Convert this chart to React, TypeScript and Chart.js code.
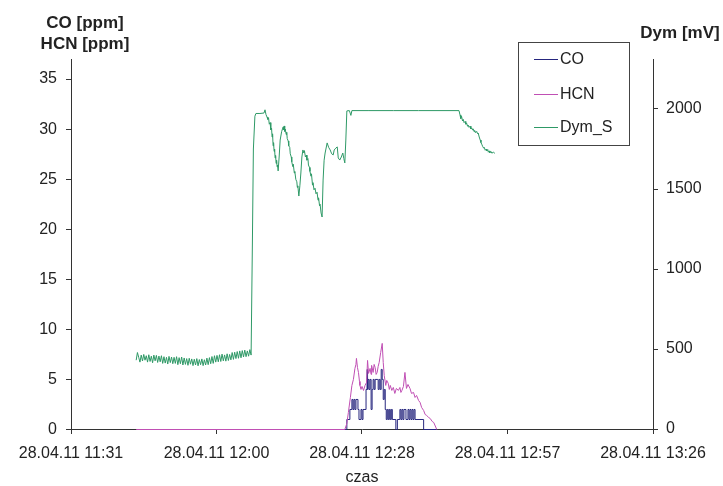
import { useEffect, useRef } from 'react';
import { Chart, registerables } from 'chart.js';

Chart.register(...registerables);

// Time axis in minutes since midnight (28.04.11)
const xMin = 691.2;
const xMax = 806.4;
const xTickValues = [691.2, 720, 748.8, 777.6, 806.4];
const xTickLabels = ['28.04.11 11:31', '28.04.11 12:00', '28.04.11 12:28', '28.04.11 12:57', '28.04.11 13:26'];
const leftTicks = [0, 5, 10, 15, 20, 25, 30, 35];
const rightTicks = [0, 500, 1000, 1500, 2000];

// Dym_S [mV] : [minute, value]
const dymSeries: [number, number][] = [
  [704.1, 430], [704.35, 478], [704.6, 448], [704.85, 418], [705.1, 462], [705.35, 425], [705.6, 466], [705.85, 430],
  [706.1, 458], [706.35, 418], [706.6, 464], [706.85, 422], [707.1, 455], [707.35, 414], [707.6, 462], [707.85, 426],
  [708.1, 460], [708.35, 416], [708.6, 456], [708.85, 420], [709.1, 458], [709.35, 410], [709.6, 452], [709.85, 412],
  [710.1, 448], [710.35, 406], [710.6, 454], [710.85, 415], [711.1, 450], [711.35, 408], [711.6, 448], [711.85, 410],
  [712.1, 452], [712.35, 402], [712.6, 446], [712.85, 408], [713.1, 450], [713.35, 400], [713.6, 444], [713.85, 404],
  [714.1, 440], [714.35, 398], [714.6, 442], [714.85, 405], [715.1, 438], [715.35, 396], [715.6, 436], [715.85, 400],
  [716.1, 440], [716.35, 395], [716.6, 434], [716.85, 402], [717.1, 438], [717.35, 396], [717.6, 433], [717.85, 400],
  [718.1, 443], [718.35, 402], [718.6, 446], [718.85, 408], [719.1, 453], [719.35, 410], [719.6, 458], [719.85, 418],
  [720.1, 460], [720.35, 420], [720.6, 464], [720.85, 422], [721.1, 468], [721.35, 426], [721.6, 463], [721.85, 424],
  [722.1, 470], [722.35, 428], [722.6, 466], [722.85, 432], [723.1, 478], [723.35, 435], [723.6, 480], [723.85, 440],
  [724.1, 484], [724.35, 442], [724.6, 488], [724.85, 445], [725.1, 490], [725.35, 450], [725.6, 493], [725.85, 452],
  [726.1, 488], [726.35, 455], [726.6, 496], [726.85, 462],
  [727.1, 1150], [727.3, 1750], [727.6, 1955], [727.8, 1972], [728.6, 1972], [729.4, 1975], [729.6, 1995], [729.8, 1965],
  [730.0, 1950], [730.15, 1935], [730.3, 1945], [730.45, 1905], [730.6, 1915], [730.75, 1870], [730.9, 1880], [731.0, 1825],
  [731.1, 1845], [731.2, 1770], [731.3, 1790], [731.4, 1735], [731.5, 1750], [731.6, 1694], [731.7, 1710], [731.8, 1660],
  [731.9, 1680], [732.0, 1638], [732.1, 1650], [732.2, 1613], [732.4, 1700], [732.6, 1806], [732.9, 1860], [733.2, 1888],
  [733.3, 1870], [733.4, 1894], [733.5, 1860], [733.6, 1875], [733.8, 1840], [733.9, 1855], [734.0, 1815], [734.2, 1800],
  [734.3, 1770], [734.5, 1760], [734.6, 1720], [734.8, 1700], [734.9, 1670], [735.1, 1640], [735.2, 1655], [735.4, 1600],
  [735.5, 1610], [735.7, 1560], [735.9, 1545], [736.0, 1510], [736.1, 1520], [736.3, 1456], [736.5, 1520], [736.7, 1600],
  [736.9, 1700], [737.1, 1744], [737.3, 1725], [737.4, 1740], [737.6, 1700], [737.8, 1712], [737.9, 1680], [738.1, 1690],
  [738.2, 1650], [738.4, 1635], [738.5, 1610], [738.7, 1580], [738.8, 1595], [739.0, 1525], [739.1, 1540], [739.3, 1495],
  [739.5, 1505], [739.7, 1470], [739.9, 1480], [740.1, 1430], [740.2, 1445], [740.4, 1395], [740.5, 1405], [740.7, 1350],
  [740.9, 1325], [741.1, 1556], [741.3, 1680], [741.5, 1725], [741.9, 1788], [742.2, 1760], [742.5, 1744], [742.8, 1720],
  [743.1, 1713], [743.3, 1744], [743.6, 1755], [743.9, 1763], [744.1, 1694], [744.4, 1681], [744.7, 1700], [745.0, 1725],
  [745.2, 1690], [745.4, 1663], [745.6, 1806], [745.8, 1988], [746.3, 1990], [746.6, 1960], [746.8, 1990], [750.0, 1990],
  [755.0, 1990], [760.0, 1990], [768.0, 1990],
  [768.2, 1963], [768.35, 1940], [768.5, 1955], [768.7, 1925], [768.85, 1935], [769.0, 1915], [769.2, 1922], [769.35, 1905],
  [769.5, 1912], [769.7, 1892], [769.8, 1900], [770.0, 1885], [770.2, 1893], [770.35, 1875], [770.5, 1882], [770.7, 1868],
  [770.8, 1876], [771.0, 1858], [771.1, 1866], [771.3, 1852], [771.5, 1860], [771.7, 1845], [771.8, 1850], [772.0, 1825],
  [772.2, 1806], [772.35, 1790], [772.5, 1780], [772.7, 1765], [772.9, 1755], [773.0, 1760], [773.2, 1742], [773.4, 1750],
  [773.5, 1738], [773.7, 1746], [773.8, 1730], [774.0, 1738], [774.1, 1726], [774.3, 1735], [774.5, 1724], [774.8, 1730],
  [775.1, 1723],
];

// HCN [ppm] : [minute, value]
const hcnSeries: [number, number][] = [
  [704.1, 0], [745.4, 0], [745.8, 0.6], [746.1, 1.7], [746.5, 3.2], [746.8, 4.4], [747.1, 5.0], [747.4, 6.1],
  [747.6, 6.5], [747.7, 7.1], [747.9, 6.2], [748.1, 5.7], [748.3, 4.8], [748.4, 4.4], [748.6, 4.0], [748.8, 4.3],
  [749.1, 3.9], [749.4, 4.4], [749.7, 4.7], [749.9, 6.9], [750.1, 5.6], [750.4, 6.1], [750.6, 5.5], [750.7, 6.4],
  [751.0, 5.7], [751.2, 6.5], [751.4, 6.2], [751.6, 5.5], [751.8, 5.7], [752.0, 6.3], [752.2, 6.7], [752.5, 7.7],
  [752.8, 8.6], [753.0, 6.7], [753.2, 5.4], [753.5, 4.4], [753.7, 4.9], [754.0, 4.6], [754.2, 4.0], [754.4, 4.4],
  [754.7, 3.9], [755.0, 4.2], [755.3, 3.6], [755.6, 4.1], [756.0, 3.9], [756.3, 4.2], [756.5, 3.7], [756.7, 3.9],
  [757.0, 4.3], [757.3, 5.7], [757.6, 4.1], [757.9, 4.5], [758.3, 4.1], [758.6, 3.6], [759.0, 3.7], [759.3, 3.2],
  [759.6, 3.4], [760.0, 2.9], [760.3, 2.7], [760.6, 2.2], [761.0, 1.9], [761.3, 1.5], [761.6, 1.4], [762.0, 1.2],
  [762.3, 1.1], [762.7, 0.8], [763.0, 0.7], [763.6, 0],
];

// CO [ppm] : [minute, value] (its zero run before 12:25 is hidden under HCN in the reference)
const coSeries: [number, number][] = [
  [745.4, 0], [745.8, 1], [746.4, 2], [746.8, 3], [747.0, 2], [747.2, 3], [747.4, 2], [747.6, 3],
  [748.0, 2], [748.2, 1], [748.6, 2], [748.8, 1], [749.0, 2], [749.6, 4], [749.8, 6], [749.9, 4], [750.0, 5],
  [750.2, 4], [750.4, 5], [750.6, 2], [750.8, 4], [751.0, 5], [751.2, 4], [751.4, 5], [751.8, 5], [752.0, 4],
  [752.2, 5], [752.4, 4], [752.6, 6], [752.8, 5], [753.0, 3], [753.2, 4], [753.4, 2], [753.6, 1], [753.8, 2],
  [754.0, 1], [754.2, 2], [754.4, 1], [754.6, 2], [754.8, 1], [755.5, 0], [755.8, 1], [756.3, 2], [756.5, 1],
  [756.7, 2], [756.9, 1], [757.1, 2], [757.5, 1], [757.9, 2], [758.1, 1], [758.3, 2], [758.5, 1], [758.7, 2],
  [758.9, 1], [759.1, 2], [759.3, 1], [761.0, 0], [763.6, 0],
];

const FONT = 'Arial, "Liberation Sans", sans-serif';
const TEXT = '#222222';
const AXIS = '#333333';
const CO_COLOR = '#26267e';
const HCN_COLOR = '#c04fb4';
const DYM_COLOR = '#2e9966';

const overlayPlugin = {
  id: 'overlay',
  afterDraw(chart: any) {
    const ctx = chart.ctx;
    ctx.save();
    ctx.fillStyle = TEXT;
    ctx.textAlign = 'center';
    ctx.textBaseline = 'middle';
    ctx.font = `bold 17px ${FONT}`;
    ctx.fillText('CO [ppm]', 85, 23);
    ctx.fillText('HCN [ppm]', 85, 44);
    ctx.fillText('Dym [mV]', 680, 33);
    ctx.font = `16px ${FONT}`;
    ctx.fillText('czas', 362, 478);

    // legend
    ctx.fillStyle = '#ffffff';
    ctx.fillRect(518.5, 42.5, 111, 103);
    ctx.strokeStyle = '#444444';
    ctx.lineWidth = 1;
    ctx.strokeRect(518.5, 42.5, 111, 103);
    const items: [string, string, number][] = [
      ['CO', CO_COLOR, 59],
      ['HCN', HCN_COLOR, 94],
      ['Dym_S', DYM_COLOR, 127],
    ];
    ctx.font = `16px ${FONT}`;
    ctx.textAlign = 'left';
    for (const [label, color, y] of items) {
      ctx.strokeStyle = color;
      ctx.beginPath();
      ctx.moveTo(534, y + 0.5);
      ctx.lineTo(558, y + 0.5);
      ctx.stroke();
      ctx.fillStyle = TEXT;
      ctx.fillText(label, 560, y + 1);
    }
    ctx.restore();
  },
};

export default function App() {
  const ref = useRef<HTMLCanvasElement>(null);
  useEffect(() => {
    const axisCommon = {
      grid: { drawOnChartArea: false, drawTicks: true, tickLength: 5, color: AXIS },
      border: { display: true, color: AXIS, width: 1 },
    };
    const chart = new Chart(ref.current as HTMLCanvasElement, {
      type: 'line',
      data: {
        datasets: [
          {
            label: 'Dym_S',
            data: dymSeries.map(([x, y]) => ({ x, y })),
            yAxisID: 'y1',
            borderColor: DYM_COLOR,
            borderWidth: 1,
            pointRadius: 0,
            clip: false,
          },
          {
            label: 'HCN',
            data: hcnSeries.map(([x, y]) => ({ x, y })),
            yAxisID: 'y',
            borderColor: HCN_COLOR,
            borderWidth: 1,
            pointRadius: 0,
            clip: false,
          },
          {
            label: 'CO',
            data: coSeries.map(([x, y]) => ({ x, y })),
            yAxisID: 'y',
            borderColor: CO_COLOR,
            borderWidth: 1,
            pointRadius: 0,
            stepped: true,
            clip: false,
          },
        ],
      },
      options: {
        responsive: false,
        devicePixelRatio: 1,
        animation: false,
        events: [],
        layout: { padding: { top: 59, left: 0, right: 0, bottom: 0 } },
        plugins: { legend: { display: false }, tooltip: { enabled: false } },
        elements: { line: { tension: 0 }, point: { radius: 0 } },
        scales: {
          x: {
            type: 'linear',
            position: 'bottom',
            min: xMin,
            max: xMax,
            afterBuildTicks: (s: any) => {
              s.ticks = xTickValues.map((value) => ({ value }));
            },
            afterFit: (s: any) => {
              s.height = 57;
            },
            ticks: {
              autoSkip: false,
              maxRotation: 0,
              minRotation: 0,
              padding: 10,
              color: TEXT,
              font: { family: FONT, size: 16 },
              callback: (_v: any, i: number) => xTickLabels[i] ?? '',
            },
            ...axisCommon,
          },
          y: {
            type: 'linear',
            position: 'left',
            min: 0.05,
            max: 37,
            afterBuildTicks: (s: any) => {
              s.ticks = leftTicks.map((value) => ({ value }));
            },
            afterFit: (s: any) => {
              s.width = 71;
            },
            ticks: {
              padding: 9,
              color: TEXT,
              font: { family: FONT, size: 16 },
              callback: (v: any) => String(v),
            },
            ...axisCommon,
          },
          y1: {
            type: 'linear',
            position: 'right',
            min: 0,
            max: 2312.5,
            afterBuildTicks: (s: any) => {
              s.ticks = rightTicks.map((value) => ({ value }));
            },
            afterFit: (s: any) => {
              s.width = 70;
            },
            ticks: {
              padding: 8,
              color: TEXT,
              font: { family: FONT, size: 16 },
              callback: (v: any) => String(v),
            },
            ...axisCommon,
          },
        },
      },
      plugins: [overlayPlugin],
    } as any);
    return () => chart.destroy();
  }, []);
  return (
    <div style={{ position: 'absolute', left: 0, top: 0, width: 723, height: 486, background: '#ffffff' }}>
      <canvas ref={ref} width={723} height={486} style={{ display: 'block' }} />
    </div>
  );
}
